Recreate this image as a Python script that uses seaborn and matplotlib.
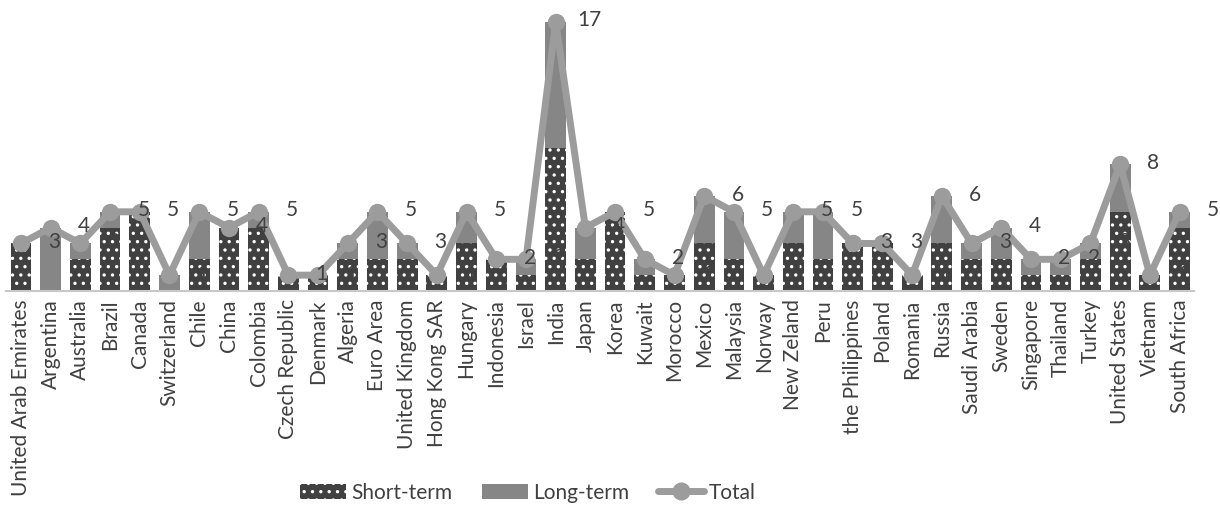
import numpy as np
import pandas as pd
import matplotlib
matplotlib.use("Agg")
import matplotlib.pyplot as plt
import seaborn as sns
from matplotlib.patches import Patch
from matplotlib.lines import Line2D

# ---------------------------------------------------------
# Adatok
# ---------------------------------------------------------
countries = [
    "United Arab Emirates", "Argentina", "Australia", "Brazil", "Canada",
    "Switzerland", "Chile", "China", "Colombia", "Czech Republic",
    "Denmark", "Algeria", "Euro Area", "United Kingdom", "Hong Kong SAR",
    "Hungary", "Indonesia", "Israel", "India", "Japan",
    "Korea", "Kuwait", "Morocco", "Mexico", "Malaysia",
    "Norway", "New Zeland", "Peru", "the Philippines", "Poland",
    "Romania", "Russia", "Saudi Arabia", "Sweden", "Singapore",
    "Thailand", "Turkey", "United States", "Vietnam", "South Africa",
]
short_term = [3, 0, 2, 4, 5, 0, 2, 4, 4, 1,
              1, 2, 2, 2, 1, 3, 2, 1, 9, 2,
              5, 1, 1, 3, 2, 1, 3, 2, 3, 3,
              1, 3, 2, 2, 1, 1, 2, 5, 1, 4]
long_term = [0, 4, 1, 1, 0, 1, 3, 0, 1, 0,
             0, 1, 3, 1, 0, 2, 0, 1, 8, 2,
             0, 1, 0, 3, 3, 0, 2, 3, 0, 0,
             0, 3, 1, 2, 1, 1, 1, 3, 0, 1]
total = [s + l for s, l in zip(short_term, long_term)]

df = pd.DataFrame({"country": countries, "short": short_term,
                   "long": long_term, "total": total})

# ---------------------------------------------------------
# Stílus
# ---------------------------------------------------------
sns.set_style("white")
plt.rcParams["font.family"] = ["Lato", "DejaVu Sans"]
plt.rcParams["hatch.linewidth"] = 1.2

dark = "#404040"
mid = "#868686"
line_col = "#9c9c9c"
txt = "#404040"

fig = plt.figure(figsize=(12.2, 5.09), dpi=100)
ax = fig.add_axes([0.005, 0.4283, 0.974, 0.56])

# hosszú távú = teljes oszlop, rá a rövid távú
sns.barplot(data=df, x="country", y="total", color=mid, saturation=1,
            width=0.7, ax=ax, linewidth=0, order=countries)
sns.barplot(data=df, x="country", y="short", color=dark, saturation=1,
            width=0.7, ax=ax, linewidth=0, order=countries,
            hatch="..", edgecolor="white")

xs = np.arange(len(countries))
sns.lineplot(x=xs, y=df["total"], ax=ax, color=line_col, linewidth=5,
             marker="o", markersize=12.5, markeredgewidth=0, zorder=5)

for i, t in enumerate(total):
    ax.annotate(str(t), (i, t), xytext=(24, 1), textcoords="offset points",
                ha="center", va="center", fontsize=15, color=txt, zorder=6)

ax.set_xlim(-0.5, len(countries) - 0.5)
ax.set_ylim(0, 18)
ax.set_xlabel("")
ax.set_ylabel("")
ax.set_yticks([])
ax.tick_params(axis="x", length=0, pad=6)
ax.set_xticks(xs)
ax.set_xticklabels(countries, rotation=90, fontsize=15, color=txt)
sns.despine(ax=ax, left=True, right=True, top=True)
ax.spines["bottom"].set_color("#c8c8c8")
ax.spines["bottom"].set_linewidth(1.5)
ax.patch.set_alpha(0)

handles = [
    Patch(facecolor=dark, edgecolor="white", hatch="..", linewidth=0),
    Patch(facecolor=mid, linewidth=0),
    Line2D([0], [0], color=line_col, linewidth=5, marker="o", markersize=12),
]
fig.legend(handles, ["Short-term", "Long-term", "Total"], loc="center",
           bbox_to_anchor=(0.433, 0.032), ncol=3, frameon=False, fontsize=15,
           labelcolor=txt, handlelength=2.2, handleheight=0.8,
           columnspacing=1.4, handletextpad=0.25)

fig.savefig("out.png", dpi=100)
